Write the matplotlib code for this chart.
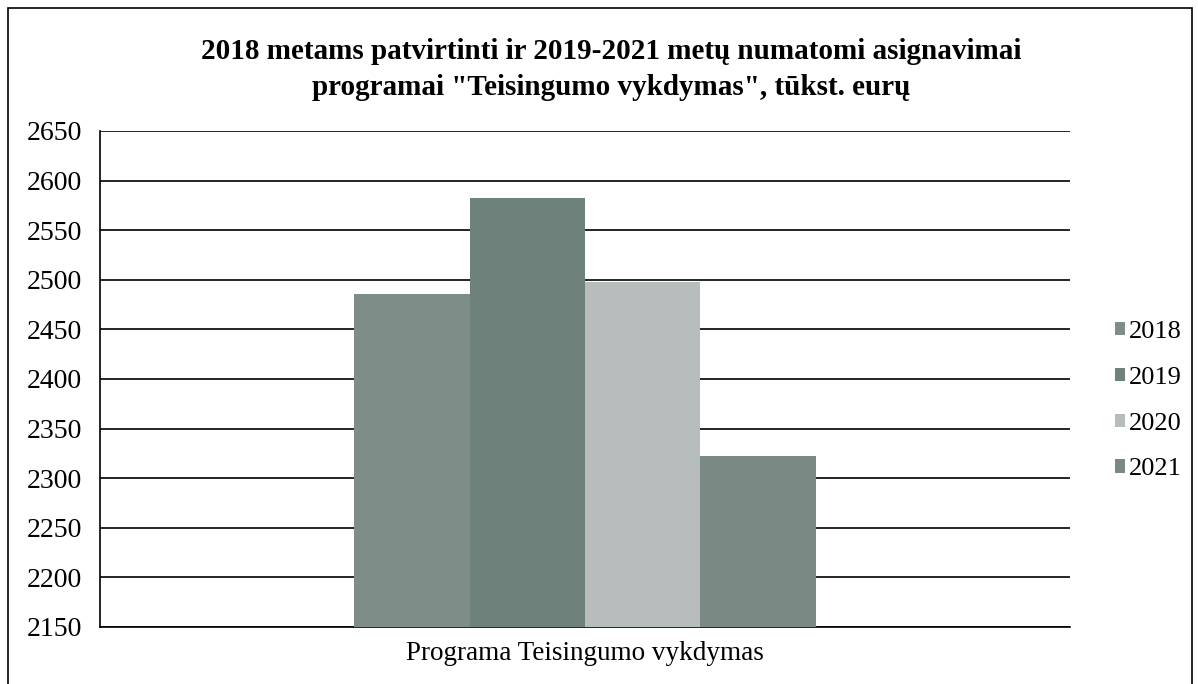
import matplotlib.pyplot as plt
from matplotlib.patches import Rectangle

plt.rcParams['font.family'] = ['Liberation Serif', 'DejaVu Serif']

years = ['2018', '2019', '2020', '2021']
values = [2486, 2582, 2498, 2322]
colors = ['#7f8d88', '#6e817b', '#b6bdbc', '#7b8985']
category = 'Programa Teisingumo vykdymas'

fig = plt.figure(figsize=(11.98, 6.84), dpi=100)
ax = fig.add_axes([100 / 1198, 1 - 627 / 684, 970 / 1198, 496 / 684])

width = 0.119
for i, (yr, v, c) in enumerate(zip(years, values, colors)):
    ax.bar((i - 1.5) * width, v - 2150, width, bottom=2150, color=c, label=yr, zorder=3)

ax.set_xlim(-0.5, 0.5)
ax.set_ylim(2150, 2650)
ax.set_yticks(range(2150, 2651, 50))
ax.yaxis.grid(True, color='black', linewidth=1.2, zorder=0)
ax.set_xticks([0])
ax.tick_params(axis='both', length=0, labelsize=20)
ax.tick_params(axis='y', pad=13)
ax.tick_params(axis='x', pad=10)
ax.set_xticklabels([category], fontsize=19.5)
for s in ['top', 'right']:
    ax.spines[s].set_visible(False)
ax.spines['left'].set_linewidth(1.2)
ax.spines['bottom'].set_linewidth(1.2)

fig.text(0.51, 0.945, '2018 metams patvirtinti ir 2019-2021 metų numatomi asignavimai\n'
         'programai "Teisingumo vykdymas", tūkst. eurų',
         ha='center', va='top', fontsize=21, fontweight='bold', linespacing=1.45)

ax.legend(loc='center left', bbox_to_anchor=(1.035, 0.456), frameon=False, fontsize=19,
          handlelength=0.4, handleheight=0.4, handletextpad=0.15, labelspacing=0.9,
          borderaxespad=0)

fig.patches.append(Rectangle((8 / 1198, -0.01), 1184 / 1198, 1 - 8 / 684 + 0.01,
                             transform=fig.transFigure, fill=False, edgecolor='black',
                             linewidth=1.2))

fig.savefig('out.png', dpi=100)
